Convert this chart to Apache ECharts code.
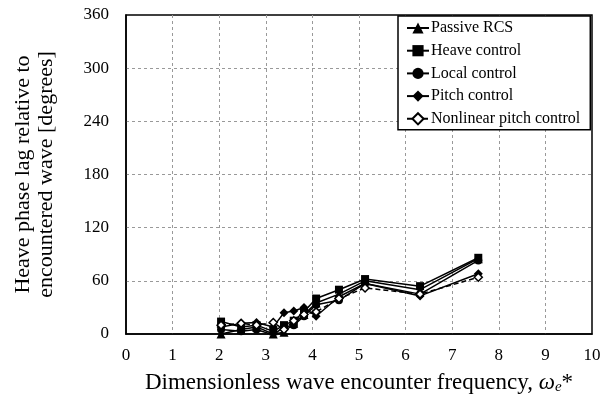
<!DOCTYPE html>
<html>
<head>
<meta charset="utf-8">
<script src="https://cdn.jsdelivr.net/npm/echarts@6/dist/echarts.min.js"></script>
<style>html,body{margin:0;padding:0;background:#fff}#c{width:604px;height:401px}</style>
</head>
<body>
<div id="c"></div>
<script>
var freq = [2.04, 2.47, 2.8, 3.16, 3.39, 3.6, 3.82, 4.08, 4.57, 5.13, 6.31, 7.56];
var passiveRCS = [0, 5, 8, 0, 2, 12, 22, 35, 45, 60, 50, 85];
var heaveControl = [14, 8, 10, 3, 10, 15, 25, 40, 50, 62, 54, 86];
var localControl = [5, 3, 5, -1, 8, 10, 20, 33, 38, 57, 45, 83];
var pitchControl = [8, 12, 13, 8, 24, 26, 30, 20, 42, 57, 43, 68];
var nonlinearPitch = [10, 12, 10, 13, 5, 15, 22, 25, 40, 52, 45, 64];
var xTicks = [0, 1, 2, 3, 4, 5, 6, 7, 8, 9, 10];
var yTicks = [0, 60, 120, 180, 240, 300, 360];

var font = 'Liberation Serif, Times New Roman, serif';
function pairs(ys){ return freq.map(function(x,i){ return [x, ys[i]]; }); }
function mk(name, ys, symbol, size, dashed, hollow){
  return {
    name: name, type: 'line', data: pairs(ys), symbol: symbol, symbolSize: size,
    showSymbol: true,
    lineStyle: {color: '#000', width: 1.5, type: dashed ? [5,3] : 'solid'},
    itemStyle: {color: hollow ? '#fff' : '#000', borderColor: '#000', borderWidth: hollow ? 1.5 : 0},
    emphasis: {disabled: true}, animation: false
  };
}
var chart = echarts.init(document.getElementById('c'), null, {renderer: 'canvas'});
chart.setOption({
  animation: false,
  backgroundColor: '#fff',
  textStyle: {fontFamily: font, color: '#000'},
  grid: {left: 126, top: 15, right: 12, bottom: 67, show: true, borderColor: '#000', borderWidth: 1.5, outerBoundsMode: 'none', containLabel: false},
  legend: {
    orient: 'vertical', left: 398, top: 16,
    padding: [4, 10, 3, 8], itemGap: 6.7, itemWidth: 22, itemHeight: 14,
    backgroundColor: '#fff', borderColor: '#000', borderWidth: 1.5,
    textStyle: {fontFamily: font, fontSize: 16, color: '#000', padding: [0,0,0,-3]},
    data: ['Passive RCS', 'Heave control', 'Local control', 'Pitch control', 'Nonlinear pitch control']
  },
  xAxis: {
    type: 'value', min: 0, max: 10, interval: 1,
    axisLine: {show: true, lineStyle: {color: '#000', width: 1.5}},
    axisTick: {show: false},
    axisLabel: {fontFamily: font, fontSize: 17, color: '#000', margin: 13,
      formatter: function(v){ return xTicks.indexOf(v) >= 0 ? String(v) : ''; }},
    splitLine: {show: true, showMinLine: false, showMaxLine: false, lineStyle: {color: '#999', type: [3,3], width: 1}},
    name: '{n|Dimensionless wave encounter frequency, }{w|ω}{s|e}{n|*}',
    nameLocation: 'middle', nameGap: 36,
    nameTextStyle: {rich: {
      n: {fontFamily: font, fontSize: 23, color: '#000'},
      w: {fontFamily: font, fontSize: 23, fontStyle: 'italic', color: '#000'},
      s: {fontFamily: font, fontSize: 15, fontStyle: 'italic', color: '#000', verticalAlign: 'bottom', padding: [10,0,0,0]}
    }}
  },
  yAxis: {
    type: 'value', min: 0, max: 360, interval: 60,
    axisLine: {show: true, lineStyle: {color: '#000', width: 1.5}},
    axisTick: {show: false},
    axisLabel: {fontFamily: font, fontSize: 17, color: '#000', margin: 17,
      formatter: function(v){ return yTicks.indexOf(v) >= 0 ? String(v) : ''; }},
    splitLine: {show: true, showMinLine: false, showMaxLine: false, lineStyle: {color: '#999', type: [3,3], width: 1}},
    name: 'Heave phase lag relative to\nencountered wave [degrees]',
    nameLocation: 'middle', nameGap: 68, nameRotate: 90,
    nameTextStyle: {fontFamily: font, fontSize: 22, color: '#000', lineHeight: 23}
  },
  series: [
    mk('Passive RCS', passiveRCS, 'triangle', 9, false, false),
    mk('Heave control', heaveControl, 'rect', 8, false, false),
    mk('Local control', localControl, 'circle', 8, false, false),
    mk('Pitch control', pitchControl, 'diamond', 9, false, false),
    mk('Nonlinear pitch control', nonlinearPitch, 'diamond', 8, true, true)
  ]
});
</script>
</body>
</html>
